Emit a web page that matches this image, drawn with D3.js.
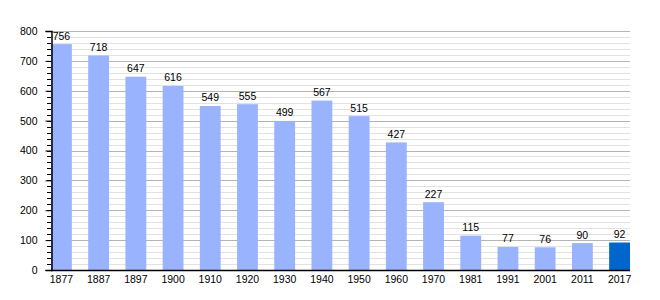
<!DOCTYPE html>
<html><head><meta charset="utf-8">
<script src="https://cdn.jsdelivr.net/npm/d3@7"></script>
<style>body{margin:0;background:#fff;}svg{display:block;font-family:"Liberation Sans",Arial,sans-serif;}</style>
</head><body>
<svg id="c" width="660" height="300"></svg>
<script>
const years = ["1877","1887","1897","1900","1910","1920","1930","1940","1950","1960","1970","1981","1991","2001","2011","2017"];
const population = [756,718,647,616,549,555,499,567,515,427,227,115,77,76,90,92];
const yTicks = [0,100,200,300,400,500,600,700,800];

const svg = d3.select("#c");
const mLeft = 51, mRight = 630, mTop = 31, mBottom = 270;
const x = d3.scaleBand().domain(years).range([mLeft, mRight]).paddingInner(0.44).paddingOuter(0);
const y = d3.scaleLinear().domain([0, 800]).range([mBottom, mTop]);

// minor grid
svg.append("g").selectAll("line").data(d3.range(0, 801, 20).filter(v => v % 100 !== 0))
  .join("line").attr("x1", mLeft).attr("x2", mRight)
  .attr("y1", d => Math.round(y(d)) + 0.5).attr("y2", d => Math.round(y(d)) + 0.5)
  .attr("stroke", "#e2e2e2").attr("stroke-width", 1);
// major grid
svg.append("g").selectAll("line").data(yTicks.filter(v => v > 0))
  .join("line").attr("x1", mLeft).attr("x2", mRight)
  .attr("y1", d => Math.round(y(d)) + 0.5).attr("y2", d => Math.round(y(d)) + 0.5)
  .attr("stroke", "#b4b4b4").attr("stroke-width", 1);

// bars
svg.append("g").selectAll("rect").data(population)
  .join("rect")
  .attr("x", (d, i) => x(years[i]))
  .attr("width", x.bandwidth())
  .attr("y", d => y(d))
  .attr("height", d => mBottom - y(d))
  .attr("fill", (d, i) => i === years.length - 1 ? "#0066cc" : "#99b3ff");

// value labels
svg.append("g").selectAll("text").data(population)
  .join("text")
  .attr("x", (d, i) => x(years[i]) + x.bandwidth() / 2)
  .attr("y", d => y(d) - 4.5)
  .attr("text-anchor", "middle")
  .attr("font-size", 10.5).attr("fill", "#000")
  .text(d => d);

// y axis minor ticks
svg.append("g").selectAll("line").data(d3.range(0, 801, 20))
  .join("line").attr("x1", mLeft - 4).attr("x2", mLeft)
  .attr("y1", d => Math.round(y(d)) + 0.5).attr("y2", d => Math.round(y(d)) + 0.5)
  .attr("stroke", "#000");

const yAxis = d3.axisLeft(y).tickValues(yTicks).tickSize(6).tickPadding(8).tickFormat(d3.format("d"));
const ga = svg.append("g").attr("transform", `translate(${mLeft + 0.5},0)`).call(yAxis);
ga.select(".domain").attr("stroke", "#000").attr("stroke-width", 1.5);
ga.selectAll("text").attr("font-size", 10.5).attr("font-family", "Liberation Sans, Arial, sans-serif").attr("fill", "#000");

const xAxis = d3.axisBottom(x).tickSize(0).tickPadding(6);
const gx = svg.append("g").attr("transform", `translate(0,${mBottom})`).call(xAxis);
gx.select(".domain").attr("d", `M${mLeft},0.5H${mRight}`).attr("stroke", "#000").attr("stroke-width", 1.5);
gx.selectAll("text").attr("font-size", 10.5).attr("font-family", "Liberation Sans, Arial, sans-serif").attr("fill", "#000");
</script>
</body></html>
